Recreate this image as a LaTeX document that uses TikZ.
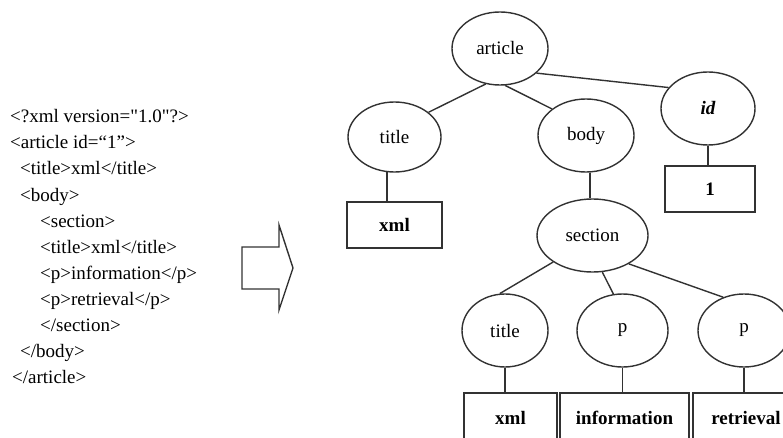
\documentclass[tikz,border=0pt]{standalone}
\usepackage{fontspec}
\setmainfont{Liberation Serif}[Ligatures=TeXOff]
\usetikzlibrary{shapes.geometric}
\definecolor{linegrey}{RGB}{50,50,50}

\begin{document}
\begin{tikzpicture}[x=1pt,y=-1pt,every node/.style={font=\fontsize{19}{26}\selectfont},
  tag/.style={ellipse,draw=linegrey,line width=1.4pt,inner sep=0pt,minimum width=#1,minimum height=73pt},
  tag/.default=92pt,
  leaf/.style={draw=linegrey,line width=1.4pt,inner sep=0pt,minimum width=#1,minimum height=46pt,font=\fontsize{19}{26}\selectfont\bfseries},
  code/.style={anchor=base west,inner sep=0pt},
  edge/.style={draw=linegrey,line width=1.4pt}]
  \clip (0,0) rectangle (783,438);
  % source document
  \node[code] (l1) at (10,123) {<?xml version="1.0"?>};
  \node[code] (l2) at (10,149) {<article id=“1”>};
  \node[code] (l3) at (20,175) {<title>xml</title>};
  \node[code] (l4) at (20,201) {<body>};
  \node[code] (l5) at (40,227) {<section>};
  \node[code] (l6) at (40,253) {<title>xml</title>};
  \node[code] (l7) at (40,279) {<p>information</p>};
  \node[code] (l8) at (40,305) {<p>retrieval</p>};
  \node[code] (l9) at (40,331) {</section>};
  \node[code] (l10) at (20,357) {</body>};
  \node[code] (l11) at (12,383) {</article>};
  % block arrow
  \draw[edge] (242,247) -- (279,247) -- (279,225) -- (293,268) -- (279,310) -- (279,289) -- (242,289) -- cycle;
  % tree
  \node[tag=96pt] (article) at (500,48.5) {article};
  \node[tag=93pt,minimum height=70pt] (title) at (394.5,137) {title};
  \node[tag=96pt] (body) at (586,135.5) {body};
  \node[tag=94pt] (id) at (708,108.5) {\textbf{\textit{id}}};
  \node[leaf=95pt] (txml) at (394.5,225) {xml};
  \node[leaf=90pt] (one) at (710,189) {1};
  \node[tag=111pt] (section) at (592.5,235.5) {section};
  \node[tag=86pt] (stitle) at (505,330.5) {title};
  \node[tag=91pt] (pinfo) at (622.5,330.5) {p};
  \node[tag=92pt] (pretr) at (744,330.5) {p};
  \node[leaf=93pt,minimum height=50pt] (sxml) at (510.5,418) {xml};
  \node[leaf=129pt,minimum height=50pt] (info) at (624.5,418) {information};
  \node[leaf=106pt,minimum height=50pt] (retr) at (746,418) {retrieval};
  \draw[edge] (article.248) -- (title.36);
  \draw[edge] (article.278) -- (body.142);
  \draw[edge] (article.326) -- (id.152);
  \draw[edge] (title.258) -- (title.258 |- txml.north);
  \draw[edge] (id.south) -- (id.south |- one.north);
  \draw[edge] (body.276) -- (body.276 |- section.north);
  \draw[edge] (section.214) -- (stitle.98);
  \draw[edge] (section.285) -- (pinfo.104);
  \draw[edge] (section.322) -- (pretr.122);
  \draw[edge] (stitle.south) -- (stitle.south |- sxml.north);
  \draw[edge] (pinfo.south) -- (pinfo.south |- info.north);
  \draw[edge] (pretr.south) -- (pretr.south |- retr.north);
\end{tikzpicture}
\end{document}
